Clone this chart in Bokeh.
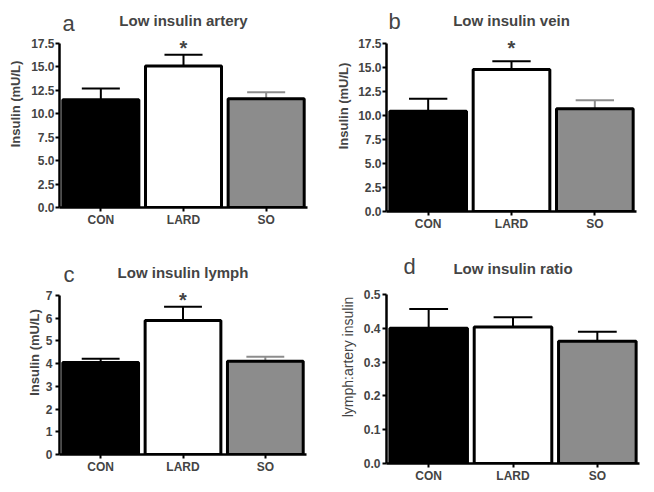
from bokeh.plotting import figure
from bokeh.models import ColumnDataSource, FactorRange, Range1d, FixedTicker, PrintfTickFormatter, Label
from bokeh.transform import dodge
from bokeh.layouts import column, row
from bokeh.embed import file_html
from bokeh.resources import INLINE

categories = ["CON", "LARD", "SO"]
bar_colors = ["black", "white", "#8c8c8c"]

artery_mean = [11.5, 15.1, 11.6]
artery_sem = [1.2, 1.2, 0.7]
vein_mean = [10.45, 14.8, 10.7]
vein_sem = [1.3, 0.85, 0.9]
lymph_mean = [4.05, 5.9, 4.1]
lymph_sem = [0.16, 0.6, 0.2]
ratio_mean = [0.40, 0.404, 0.362]
ratio_sem = [0.057, 0.029, 0.028]

insulin_ticks = [0.0, 2.5, 5.0, 7.5, 10.0, 12.5, 15.0, 17.5]
lymph_ticks = [0, 1, 2, 3, 4, 5, 6, 7]
ratio_ticks = [0.0, 0.1, 0.2, 0.3, 0.4, 0.5]

FONT = "Liberation Sans"
W = 327
LABEL_SHIFT = 5  # Label text sits ~5px low for alphabetic baseline


def panel(letter, title, means, sems, ticks, fmt, ylabel, label_bold, err_colors,
          star, H, borders, tick_standoff, label_standoff, label_size,
          letter_pos, title_base):
    bl, br, bt, bb = borders
    top = ticks[-1]
    dh = H - bt - bb
    y_end = top + bt * top / dh
    p = figure(width=W, height=H, x_range=FactorRange(*categories),
               y_range=Range1d(0, y_end), output_backend="svg",
               toolbar_location=None, title_location=None,
               min_border_left=bl, min_border_right=br,
               min_border_top=0, min_border_bottom=bb)
    p.outline_line_color = None
    p.xgrid.visible = False
    p.ygrid.visible = False
    p.background_fill_color = "white"
    p.border_fill_color = "white"

    upper = [m + s for m, s in zip(means, sems)]
    src = ColumnDataSource(dict(cat=categories, mean=means, upper=upper,
                                color=bar_colors, ecolor=err_colors))
    p.segment(x0="cat", y0="mean", x1="cat", y1="upper", line_color="ecolor",
              line_width=2, source=src)
    p.segment(x0=dodge("cat", -0.23, range=p.x_range), y0="upper",
              x1=dodge("cat", 0.23, range=p.x_range), y1="upper",
              line_color="ecolor", line_width=2, source=src)
    p.vbar(x="cat", top="mean", bottom=0, width=0.92, fill_color="color",
           line_color="black", line_width=3, source=src)

    if star:
        p.add_layout(Label(x=categories.index(star) + 0.5, y=top, y_offset=-4,
                           text="*", text_font=FONT, text_font_size="20px",
                           text_font_style="bold", text_align="center",
                           text_baseline="alphabetic"))

    # panel title, centred over the frame
    p.add_layout(Label(x=len(categories) / 2, y=top,
                       y_offset=bt - title_base + LABEL_SHIFT,
                       text=title, text_font=FONT, text_font_size="15px",
                       text_font_style="bold", text_align="center",
                       text_baseline="alphabetic"))
    # panel letter
    lx, lbase = letter_pos
    p.add_layout(Label(x=0, y=top, x_offset=lx, y_offset=bt - lbase + LABEL_SHIFT,
                       text=letter, text_font=FONT, text_font_size="22px",
                       text_font_style="normal", text_align="left",
                       text_baseline="alphabetic"))

    ya = p.yaxis[0]
    ya.ticker = FixedTicker(ticks=ticks)
    ya.bounds = (0, top)
    ya.formatter = PrintfTickFormatter(format=fmt)
    ya.axis_label = ylabel
    ya.axis_label_text_font = FONT
    ya.axis_label_text_font_size = label_size
    ya.axis_label_text_font_style = "bold" if label_bold else "normal"
    ya.axis_label_standoff = label_standoff
    ya.major_label_text_font = FONT
    ya.major_label_text_font_size = "12px"
    ya.major_label_text_font_style = "bold"
    ya.major_label_standoff = tick_standoff
    ya.major_tick_out = 4
    ya.major_tick_in = 0
    ya.minor_tick_line_color = None
    ya.axis_line_width = 2.5
    ya.major_tick_line_width = 2
    ya.axis_line_color = "black"

    xa = p.xaxis[0]
    xa.major_label_text_font = FONT
    xa.major_label_text_font_size = "12px"
    xa.major_label_text_font_style = "bold"
    xa.major_label_standoff = 1
    xa.major_tick_out = 4
    xa.major_tick_in = 0
    xa.major_tick_line_width = 2
    xa.axis_line_width = 2.5
    xa.axis_line_color = "black"
    return p


pa = panel("a", "Low insulin artery", artery_mean, artery_sem, insulin_ticks, "%.1f",
           "Insulin (mU/L)", True, ["black", "black", "#8c8c8c"], "LARD",
           246, (59, 20, 43, 39), 1, 5, "13px", (3, 28), 25)
pb = panel("b", "Low insulin vein", vein_mean, vein_sem, insulin_ticks, "%.1f",
           "Insulin (mU/L)", True, ["black", "black", "#8c8c8c"], "LARD",
           250, (59, 18, 43, 39), 1, 4, "13px", (2, 26), 25)
pc = panel("c", "Low insulin lymph", lymph_mean, lymph_sem, lymph_ticks, "%d",
           "Insulin (mU/L)", True, ["black", "black", "#8c8c8c"], "LARD",
           230, (59, 21, 45, 26), 3, 1, "13px", (4, 29), 27)
pd_ = panel("d", "Low insulin ratio", ratio_mean, ratio_sem, ratio_ticks, "%.1f",
            "lymph:artery insulin", False, ["black", "black", "black"], None,
            239, (59, 15, 44, 26), 2, 5, "14px", (17, 21), 23)

layout = column(row(pa, pb), row(pc, pd_))
open("out.html", "w").write(file_html(layout, INLINE))
